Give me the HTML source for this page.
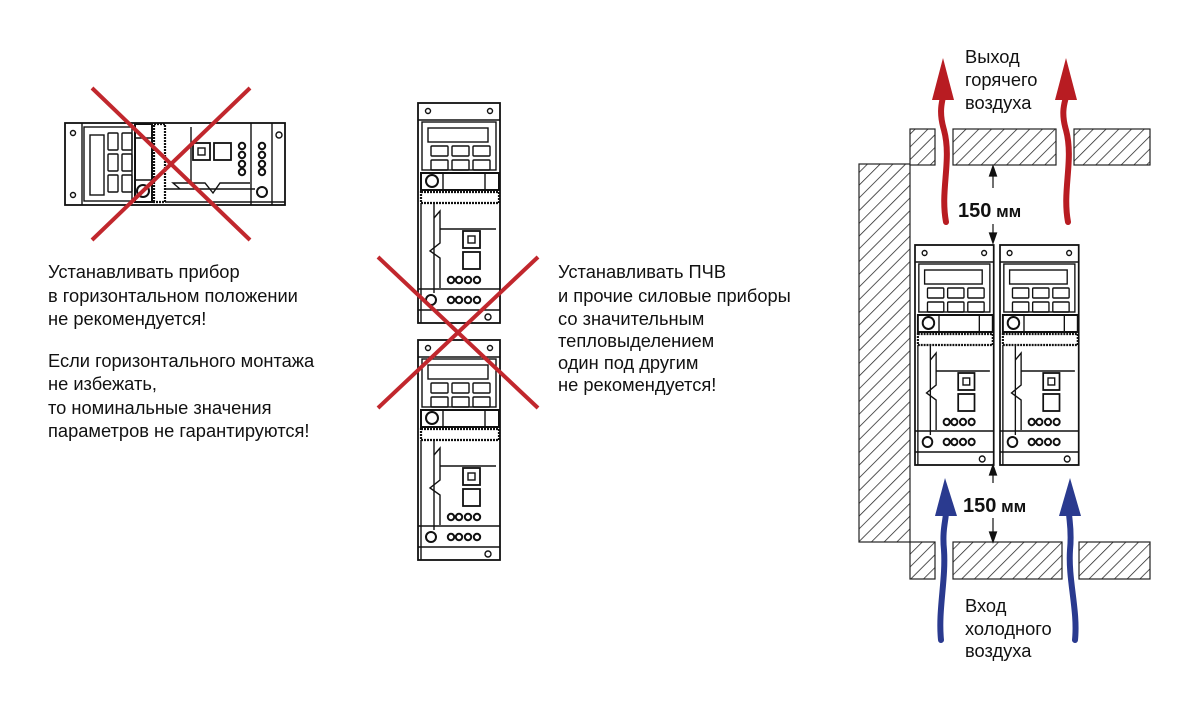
<!DOCTYPE html>
<html><head><meta charset="utf-8"><style>
html,body{margin:0;padding:0;background:#fff;width:1201px;height:701px;overflow:hidden}
text{font-family:"Liberation Sans Narrow","Liberation Sans",sans-serif;fill:#111}
</style></head><body>
<svg width="1201" height="701" viewBox="0 0 1201 701" xmlns="http://www.w3.org/2000/svg">
<defs>
<pattern id="h" width="9" height="9" patternUnits="userSpaceOnUse" patternTransform="rotate(45)">
<rect width="9" height="9" fill="#fff"/><line x1="0" y1="0" x2="0" y2="9" stroke="#222" stroke-width="1.5"/>
</pattern>
<g id="dev" fill="none" stroke="#111" stroke-width="1.4">
<rect x="0" y="0" width="82" height="220" fill="#fff" stroke-width="1.8"/>
<line x1="0" y1="17" x2="82" y2="17"/>
<circle cx="10" cy="8" r="2.5"/><circle cx="72" cy="8" r="2.5"/>
<rect x="4" y="19" width="74" height="48"/>
<rect x="10" y="25" width="60" height="14"/>
<rect x="13" y="43" width="17" height="10" rx="1"/><rect x="34" y="43" width="17" height="10" rx="1"/><rect x="55" y="43" width="17" height="10" rx="1"/>
<rect x="13" y="57" width="17" height="10" rx="1"/><rect x="34" y="57" width="17" height="10" rx="1"/><rect x="55" y="57" width="17" height="10" rx="1"/>
<rect x="3" y="70" width="78" height="17" stroke-width="2"/>
<circle cx="14" cy="78" r="6" stroke-width="2"/>
<line x1="25" y1="70" x2="25" y2="87"/><line x1="67" y1="70" x2="67" y2="87"/>
<rect x="3" y="89" width="78" height="11" fill="#fff" stroke-dasharray="2 1" stroke-width="2.2"/>
<line x1="3" y1="100" x2="3" y2="220"/><line x1="16" y1="100" x2="16" y2="190"/>
<path d="M16 115 L22 108 L22 140 L12 148 L22 155 L22 185 M22 126 L78 126"/>
<rect x="45" y="128" width="17" height="17" stroke-width="1.8"/><rect x="50" y="133" width="7" height="7"/>
<rect x="45" y="149" width="17" height="17" stroke-width="1.8"/>
<circle cx="33" cy="177" r="3.2" stroke-width="2"/><circle cx="41" cy="177" r="3.2" stroke-width="2"/><circle cx="50" cy="177" r="3.2" stroke-width="2"/><circle cx="59" cy="177" r="3.2" stroke-width="2"/>
<line x1="0" y1="186" x2="82" y2="186"/>
<circle cx="33" cy="197" r="3.2" stroke-width="2"/><circle cx="41" cy="197" r="3.2" stroke-width="2"/><circle cx="50" cy="197" r="3.2" stroke-width="2"/><circle cx="59" cy="197" r="3.2" stroke-width="2"/>
<circle cx="13" cy="197" r="5" stroke-width="2"/>
<line x1="0" y1="207" x2="82" y2="207"/>
<circle cx="70" cy="214" r="3"/>
</g>
</defs>

<g transform="translate(65,205) rotate(-90)"><use href="#dev"/></g>
<line x1="92" y1="88" x2="250" y2="240" stroke="#c1272d" stroke-width="4"/>
<line x1="250" y1="88" x2="92" y2="240" stroke="#c1272d" stroke-width="4"/>

<use href="#dev" x="418" y="103"/>
<use href="#dev" x="418" y="340"/>
<line x1="378" y1="257" x2="538" y2="408" stroke="#c1272d" stroke-width="4"/>
<line x1="538" y1="257" x2="378" y2="408" stroke="#c1272d" stroke-width="4"/>

<g stroke="#222" stroke-width="1.2" fill="url(#h)">
<rect x="859" y="164" width="51" height="378"/>
<rect x="910" y="129" width="25" height="36"/>
<rect x="953" y="129" width="103" height="36"/>
<rect x="1074" y="129" width="76" height="36"/>
<rect x="910" y="542" width="25" height="37"/>
<rect x="953" y="542" width="109" height="37"/>
<rect x="1079" y="542" width="71" height="37"/>
</g>

<g transform="translate(915,245) scale(0.96,1)"><use href="#dev"/></g>
<g transform="translate(1000,245) scale(0.96,1)"><use href="#dev"/></g>

<g stroke="#111" stroke-width="1.2" fill="#111">
<line x1="993" y1="172" x2="993" y2="188"/><path d="M993 166 L989.5 176 L996.5 176Z"/>
<line x1="993" y1="224" x2="993" y2="236"/><path d="M993 243 L989.5 233 L996.5 233Z"/>
<line x1="993" y1="472" x2="993" y2="483"/><path d="M993 465 L989.5 475 L996.5 475Z"/>
<line x1="993" y1="518" x2="993" y2="535"/><path d="M993 542 L989.5 532 L996.5 532Z"/>
</g>
<text x="958" y="217" style="font-size:20px;font-weight:bold">150<tspan style="font-size:17px"> мм</tspan></text>
<text x="963" y="512" style="font-size:20px;font-weight:bold">150<tspan style="font-size:17px"> мм</tspan></text>

<g stroke="#b81c22" stroke-width="6" fill="none" stroke-linecap="round">
<path d="M946 222 C940 190 952 160 944 130 C938 110 943 100 943 96"/>
<path d="M1068 222 C1062 190 1074 160 1066 130 C1060 110 1066 100 1066 96"/>
</g>
<path d="M943 58 L932 100 L954 100Z" fill="#b81c22"/>
<path d="M1066 58 L1055 100 L1077 100Z" fill="#b81c22"/>
<g stroke="#2a3a8f" stroke-width="6" fill="none" stroke-linecap="round">
<path d="M941 640 C938 610 946 580 944 550 C942 530 946 520 946 512"/>
<path d="M1075 640 C1078 610 1068 580 1070 550 C1072 530 1069 520 1069 512"/>
</g>
<path d="M945 478 L935 516 L957 516Z" fill="#2a3a8f"/>
<path d="M1070 478 L1059 516 L1081 516Z" fill="#2a3a8f"/>

<g style="font-size:18.3px">
<text x="48" y="278">Устанавливать прибор</text>
<text x="48" y="302">в горизонтальном положении</text>
<text x="48" y="325">не рекомендуется!</text>
<text x="48" y="367">Если горизонтального монтажа</text>
<text x="48" y="390">не избежать,</text>
<text x="48" y="414">то номинальные значения</text>
<text x="48" y="437">параметров не гарантируются!</text>

<text x="558" y="278">Устанавливать ПЧВ</text>
<text x="558" y="302">и прочие силовые приборы</text>
<text x="558" y="325">со значительным</text>
<text x="558" y="347">тепловыделением</text>
<text x="558" y="369">один под другим</text>
<text x="558" y="391">не рекомендуется!</text>

<text x="965" y="63">Выход</text>
<text x="965" y="86">горячего</text>
<text x="965" y="109">воздуха</text>
<text x="965" y="612">Вход</text>
<text x="965" y="635">холодного</text>
<text x="965" y="657">воздуха</text>
</g>
</svg>
</body></html>
